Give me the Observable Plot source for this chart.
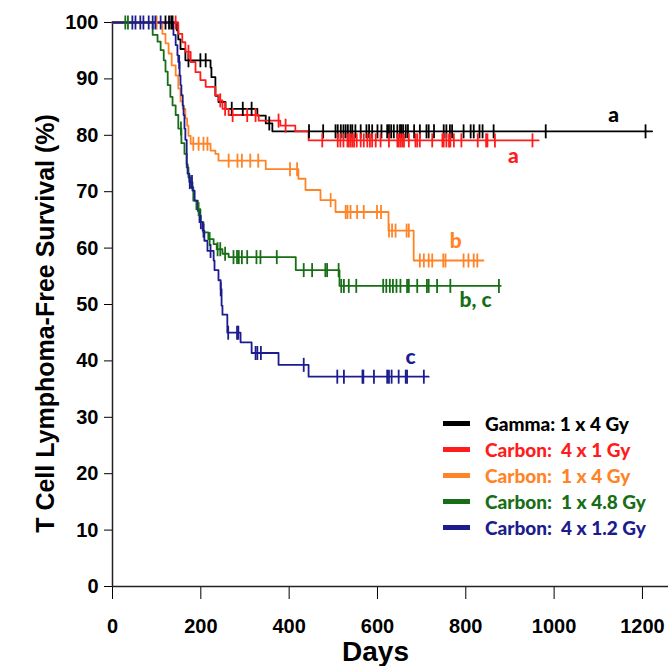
<!DOCTYPE html>
<html>
<head>
<meta charset="utf-8">
<script src="https://cdn.jsdelivr.net/npm/d3@7"></script>
<script src="https://cdn.jsdelivr.net/npm/@observablehq/plot@0.6"></script>
<style>
  body { margin: 0; background: #fff; }
  #wrap { position: relative; width: 668px; height: 666px; }
  #legend { position: absolute; left: 443px; top: 410px; font-family: Lato, "Open Sans", sans-serif; font-weight: 900; font-size: 19px; }
  .row { display: flex; align-items: center; height: 26px; }
  .sw { width: 27px; height: 5px; margin-right: 15px; }
</style>
</head>
<body>
<div id="wrap"><div id="legend"></div></div>
<script>
// ---- Data ----
const seriesNames = ["Gamma: 1 x 4 Gy", "Carbon:  4 x 1 Gy", "Carbon:  1 x 4 Gy", "Carbon:  1 x 4.8 Gy", "Carbon:  4 x 1.2 Gy"];
const seriesColors = ["#000000", "#ff1c1c", "#ff8427", "#176e17", "#1c1c8e"];

// step points: [day, survival % after the step]
const gammaSteps = [[0,100],[146,98.6],[149,97],[154,95.3],[165,93.3],[222,92],[224,90.3],[233,87],[240,85.9],[256,84.7],[328,83.5],[347,82.1],[362,80.7]];
const gammaEnd = 1222;
const gammaCensor = [120,128,133,136,172,199,211,270,295,315,355,445,477,505,510,517,523,528,533,539,543,550,562,575,581,588,600,609,622,626,631,637,645,651,654,658,664,669,683,696,711,716,728,750,756,764,769,795,811,818,831,838,863,981,1207];

const red4x1Steps = [[0,100],[149,98],[158,96.5],[165,94.8],[177,93],[188,91.2],[199,89.8],[211,88.6],[233,87.1],[240,86.2],[249,84.7],[263,83.6],[331,82.6],[380,81.7],[414,80.7],[444,79.1]];
const red4x1End = 965;
const red4x1Censor = [143,172,244,255,272,305,324,376,392,475,510,516,523,532,535,539,543,547,553,562,569,577,583,588,596,607,626,645,648,652,656,660,671,686,690,696,724,747,750,756,762,765,773,790,827,846,849,866,951];

const orange1x4Steps = [[0,100],[113,98],[120,96.3],[127,94.5],[134,92.4],[143,90.6],[149,88.3],[154,86],[159,84.7],[165,83],[169,81.7],[172,79.9],[177,78.5],[222,77.3],[233,76.7],[240,75.5],[347,74],[421,72.3],[437,70.3],[471,68.5],[505,66.4],[625,63.1],[682,57.8]];
const orange1x4End = 840;
const orange1x4Censor = [100,183,195,206,215,263,283,293,312,330,402,418,494,528,532,539,554,569,599,608,626,633,641,666,671,696,705,716,724,749,754,795,806,818,826];

const green1x48Steps = [[0,100],[91,97.8],[102,96.6],[109,95.1],[116,93.3],[120,91.3],[125,88.9],[131,86.8],[136,85.3],[143,83.6],[149,81.2],[156,78.6],[163,76.7],[168,74.3],[172,72.5],[177,70.8],[183,68.4],[190,66.9],[199,64.6],[206,62.8],[217,61.6],[229,60.7],[236,59.8],[249,59],[263,58.4],[415,56.1],[514,53.3]];
const green1x48End = 879;
const green1x48Censor = [29,35,155,195,220,238,244,255,274,282,286,293,305,326,335,372,433,452,482,486,512,518,524,535,552,613,620,628,635,643,652,667,671,690,712,716,735,765,875];

const blue4x12Steps = [[0,100],[138,97.8],[143,96],[147,94.2],[149,93],[152,90.6],[154,88.9],[156,87.1],[159,85.3],[161,83.6],[163,81.2],[165,79.2],[168,74.9],[170,73.2],[174,71.7],[181,70.2],[186,68.4],[193,66.6],[197,64.6],[204,63.1],[208,61.3],[215,59.5],[229,57.8],[231,56.1],[240,54.3],[245,52.7],[247,49.8],[249,48.2],[260,45],[290,43.3],[315,41.4],[376,39.3],[444,37.2]];
const blue4x12End = 716;
const blue4x12Censor = [45,52,63,70,82,91,97,109,151,175,180,200,206,222,245,262,282,285,324,328,336,433,509,524,566,568,592,622,626,632,648,664,667,705];

const curveLabels = ["a", "a", "b", "b, c", "c"];
const curveLabelAt = [[1135, 83.5], [908, 76.2], [777, 61.3], [822, 50.7], [675, 40.6]];

const xTicks = [0, 200, 400, 600, 800, 1000, 1200];
const yTicks = [0, 10, 20, 30, 40, 50, 60, 70, 80, 90, 100];
const xTitle = "Days";
const yTitle = "T Cell Lymphoma-Free Survival (%)";

// ---- Build tables ----
const allSteps = [gammaSteps, red4x1Steps, orange1x4Steps, green1x48Steps, blue4x12Steps];
const allEnds = [gammaEnd, red4x1End, orange1x4End, green1x48End, blue4x12End];
const allCensor = [gammaCensor, red4x1Censor, orange1x4Censor, green1x48Censor, blue4x12Censor];

function survAt(steps, t) {
  let s = 100;
  for (const [d, v] of steps) if (d <= t) s = v;
  return s;
}

const lineData = [];
const censorData = [];
allSteps.forEach((steps, i) => {
  steps.forEach(([d, v]) => lineData.push({series: i, day: d, surv: v}));
  lineData.push({series: i, day: allEnds[i], surv: steps[steps.length - 1][1]});
  allCensor[i].forEach(d => censorData.push({series: i, day: d, surv: survAt(steps, d)}));
});
const labelData = curveLabels.map((t, i) => ({text: t, series: i, day: curveLabelAt[i][0], surv: curveLabelAt[i][1]}));

const vtick = { draw(ctx, size) { const h = Math.sqrt(size / Math.PI); ctx.moveTo(0, -h); ctx.lineTo(0, h); } };

const sansBold = "'Liberation Sans', Arial, sans-serif";

const chart = Plot.plot({
  width: 668,
  height: 666,
  marginLeft: 112,
  marginRight: 0,
  marginTop: 22,
  marginBottom: 80,
  style: { fontFamily: sansBold, fontWeight: "bold", fontSize: "20px", color: "#000", background: "#fff" },
  x: { domain: [0, 1259], ticks: xTicks, tickFormat: d => String(d), tickSize: 13, tickPadding: 19, label: null },
  y: { domain: [0, 100], ticks: yTicks, tickFormat: d => String(d), tickSize: 8, tickPadding: 6, label: null },
  marks: [
    Plot.ruleX([0], { stroke: "#222", strokeWidth: 1.5 }),
    Plot.ruleY([0], { stroke: "#222", strokeWidth: 1.5 }),
    Plot.line(lineData, { x: "day", y: "surv", z: "series", stroke: d => seriesColors[d.series], curve: "step-after", strokeWidth: 1.8 }),
    Plot.dot(censorData, { x: "day", y: "surv", stroke: d => seriesColors[d.series], symbol: vtick, r: 7, strokeWidth: 1.8, fill: "none" }),
    Plot.text(labelData, { x: "day", y: "surv", text: "text", fill: d => seriesColors[d.series], fontFamily: "Lato, 'Open Sans', sans-serif", fontWeight: 900, fontSize: 21 }),
    Plot.text([yTitle], { text: d => d, frameAnchor: "left", textAnchor: "middle", lineAnchor: "middle", rotate: -90, dx: -67, dy: 19, fontFamily: sansBold, fontWeight: "bold", fontSize: 25, fill: "#000" }),
    Plot.text([xTitle], { text: d => d, frameAnchor: "bottom", textAnchor: "middle", lineAnchor: "middle", dx: -15, dy: 66, fontFamily: sansBold, fontWeight: "bold", fontSize: 28, fill: "#000" })
  ]
});
document.getElementById("wrap").prepend(chart);

const legend = document.getElementById("legend");
seriesNames.forEach((name, i) => {
  const row = document.createElement("div");
  row.className = "row";
  const sw = document.createElement("div");
  sw.className = "sw";
  sw.style.background = seriesColors[i];
  const tx = document.createElement("span");
  tx.textContent = name;
  tx.style.color = seriesColors[i];
  tx.style.whiteSpace = "pre";
  row.appendChild(sw); row.appendChild(tx);
  legend.appendChild(row);
});
</script>
</body>
</html>
